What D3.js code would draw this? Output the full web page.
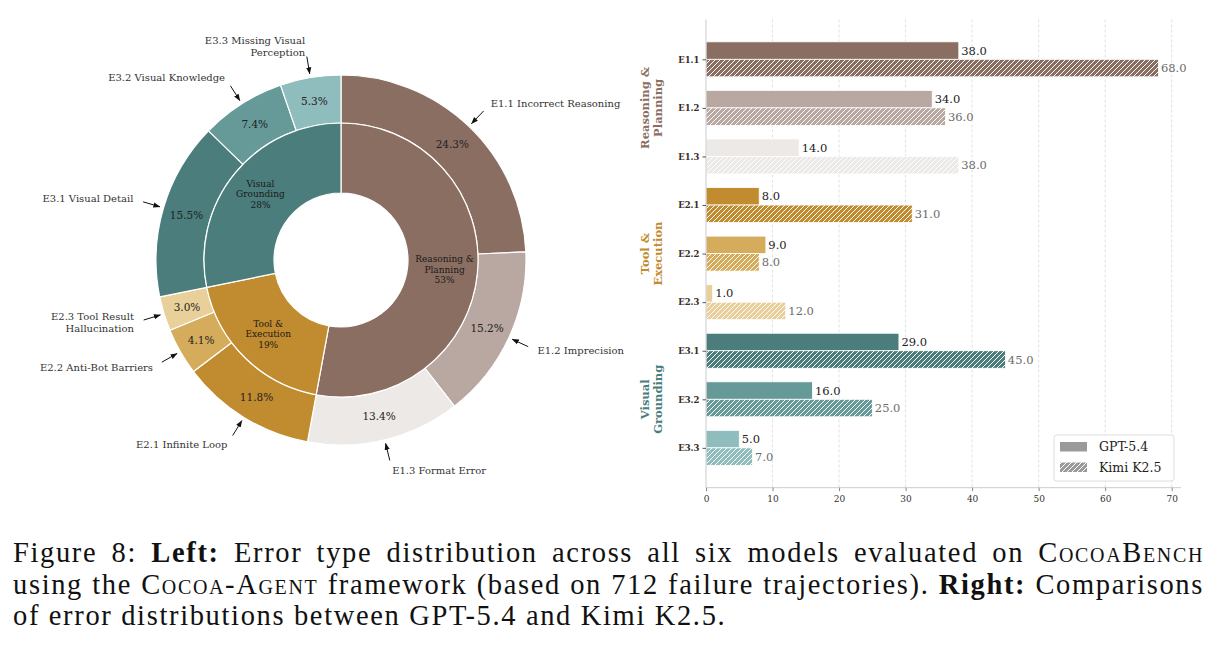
<!DOCTYPE html>
<html>
<head>
<meta charset="utf-8">
<script src="https://cdn.jsdelivr.net/npm/d3@7"></script>
<style>
  body { margin: 0; background: #fff; }
  #wrap { position: relative; width: 1218px; height: 653px; overflow: hidden; }
  svg { position: absolute; left: 0; top: 0; }
  .cap { position: absolute; left: 13px; width: 1191px; font-family: "Liberation Serif", serif; font-size: 28.5px; letter-spacing: 1.65px; color: #111; white-space: nowrap; }
  .cap.just { text-align: justify; text-align-last: justify; white-space: normal; }
  .sc { font-variant: small-caps; }
</style>
</head>
<body>
<div id="wrap"></div>
<script>
// ---- data ----
const subCodes = ["E1.1", "E1.2", "E1.3", "E2.1", "E2.2", "E2.3", "E3.1", "E3.2", "E3.3"];
const subNames = [
    ["E1.1 Incorrect Reasoning"], ["E1.2 Imprecision"], ["E1.3 Format Error"],
    ["E2.1 Infinite Loop"], ["E2.2 Anti-Bot Barriers"], ["E2.3 Tool Result", "Hallucination"],
    ["E3.1 Visual Detail"], ["E3.2 Visual Knowledge"], ["E3.3 Missing Visual", "Perception"]
];
const subShares = [24.3, 15.2, 13.4, 11.8, 4.1, 3.0, 15.5, 7.4, 5.3];
const subColors = ["#8b6e62", "#b9a8a1", "#ece9e6", "#c18b2f", "#d5ac5b", "#e9d09a", "#4a7d7c", "#659a99", "#8fbcbc"];

const groupNames = [["Reasoning &", "Planning"], ["Tool &", "Execution"], ["Visual", "Grounding"]];
const groupShares = [52.9, 18.9, 28.2];
const groupColors = ["#8b6e62", "#c18b2f", "#4a7d7c"];
const groupRows = [1, 4, 7];   // category row the group label is centered on

const gptCounts = [38, 34, 14, 8, 9, 1, 29, 16, 5];
const kimiCounts = [68, 36, 38, 31, 8, 12, 45, 25, 7];
const xTicks = [0, 10, 20, 30, 40, 50, 60, 70];

const width = 1218, height = 653;
const serif = "DejaVu Serif, serif";

let svg = d3.select("#wrap").append("svg")
    .attr("width", width)
    .attr("height", height);

let defs = svg.append("defs");

defs.append("marker")
    .attr("id", "arrowHead")
    .attr("viewBox", "0 0 8 8")
    .attr("refX", 7.5).attr("refY", 4)
    .attr("markerWidth", 7).attr("markerHeight", 7)
    .attr("markerUnits", "userSpaceOnUse")
    .attr("orient", "auto")
    .append("path")
    .attr("d", "M0,1 L8,4 L0,7 z")
    .attr("fill", "#111");

// hatch pattern per colour (white '/' lines)
function hatchId(color) { return "hatch" + color.replace("#", ""); }
subColors.concat(["#9a9a9a"]).forEach(c => {
    let p = defs.append("pattern")
        .attr("id", hatchId(c))
        .attr("patternUnits", "userSpaceOnUse")
        .attr("width", 5).attr("height", 5);
    p.append("rect").attr("width", 5).attr("height", 5).attr("fill", c);
    p.append("path")
        .attr("d", "M-1,1 l2,-2 M0,5 l5,-5 M4,6 l2,-2")
        .attr("stroke", "#fff")
        .attr("stroke-width", 1);
});

// ================= LEFT: nested donut =================
let cx = 341, cy = 260;
let rOuter = 185, rMid = 137, rInner = 67;

let pie = d3.pie().sort(null).value(d => d);
let subArcs = pie(subShares);
let groupArcs = pie(groupShares);

let outerArc = d3.arc().innerRadius(rMid).outerRadius(rOuter);
let innerArc = d3.arc().innerRadius(rInner).outerRadius(rMid);

let pieG = svg.append("g").attr("transform", `translate(${cx},${cy})`);

pieG.selectAll("path.outer")
    .data(subArcs)
    .enter().append("path")
    .attr("class", "outer")
    .attr("d", outerArc)
    .attr("fill", (d, i) => subColors[i])
    .attr("stroke", "#fff")
    .attr("stroke-width", 1.2);

pieG.selectAll("path.inner")
    .data(groupArcs)
    .enter().append("path")
    .attr("class", "inner")
    .attr("d", innerArc)
    .attr("fill", (d, i) => groupColors[i])
    .attr("stroke", "#fff")
    .attr("stroke-width", 1.2);

// polar helper (angle clockwise from 12 o'clock)
let polar = (a, r) => [r * Math.sin(a), -r * Math.cos(a)];
let mid = d => (d.startAngle + d.endAngle) / 2;

// percentage labels in outer ring
pieG.selectAll("text.pct")
    .data(subArcs)
    .enter().append("text")
    .attr("class", "pct")
    .attr("x", d => polar(mid(d), (rMid + rOuter) / 2)[0])
    .attr("y", d => polar(mid(d), (rMid + rOuter) / 2)[1])
    .attr("text-anchor", "middle")
    .attr("dominant-baseline", "central")
    .attr("font-family", serif)
    .attr("font-size", 10.5)
    .attr("fill", "#222")
    .text(d => d.data.toFixed(1) + "%");

// group labels in inner ring
groupArcs.forEach((d, i) => {
    let [x, y] = polar(mid(d), (rInner + rMid) / 2 + 2);
    let lines = groupNames[i].concat([Math.round(d.data) + "%"]);
    let t = pieG.append("text")
        .attr("text-anchor", "middle")
        .attr("font-family", serif)
        .attr("font-size", 9)
        .attr("fill", "#1a1a1a");
    lines.forEach((l, k) => {
        t.append("tspan")
            .attr("x", x)
            .attr("y", y + (k - 1) * 10.8)
            .attr("dy", "0.35em")
            .text(l);
    });
});

// outside annotations with arrows
subArcs.forEach((d, i) => {
    let a = mid(d);
    let right = Math.sin(a) >= 0;
    let [tx, ty] = polar(a, rOuter * 1.17);
    let [ax, ay] = polar(a, rOuter * 1.115);
    let [bx, by] = polar(a, rOuter * 1.02);

    pieG.append("line")
        .attr("x1", ax).attr("y1", ay)
        .attr("x2", bx).attr("y2", by)
        .attr("stroke", "#111")
        .attr("stroke-width", 1)
        .attr("marker-end", "url(#arrowHead)");

    let lines = subNames[i];
    let t = pieG.append("text")
        .attr("text-anchor", right ? "start" : "end")
        .attr("font-family", serif)
        .attr("font-size", 10)
        .attr("fill", "#333");
    lines.forEach((l, k) => {
        t.append("tspan")
            .attr("x", tx)
            .attr("y", ty + (k - (lines.length - 1) / 2) * 12)
            .attr("dy", "0.35em")
            .text(l);
    });
});

// ================= RIGHT: grouped horizontal bars =================
let x = d3.scaleLinear().domain([0, 71.4]).range([706, 1181]);
let y = d3.scaleLinear().domain([-0.82, 8.82]).range([19.5, 487.7]);
let barH = 0.36;

let barG = svg.append("g");

// dashed grid
barG.selectAll("line.grid")
    .data(xTicks.slice(1))
    .enter().append("line")
    .attr("class", "grid")
    .attr("x1", d => x(d)).attr("x2", d => x(d))
    .attr("y1", y(-0.82)).attr("y2", y(8.82))
    .attr("stroke", "#d9d9d9")
    .attr("stroke-width", 0.8)
    .attr("stroke-dasharray", "3,2");

// GPT-5.4 bars
barG.selectAll("rect.gpt")
    .data(gptCounts)
    .enter().append("rect")
    .attr("class", "gpt")
    .attr("x", x(0))
    .attr("y", (d, i) => y(i - barH))
    .attr("width", d => x(d) - x(0))
    .attr("height", y(barH) - y(0))
    .attr("fill", (d, i) => subColors[i])
    .attr("stroke", "#fff")
    .attr("stroke-width", 0.8);

// Kimi K2.5 bars (hatched)
barG.selectAll("rect.kimi")
    .data(kimiCounts)
    .enter().append("rect")
    .attr("class", "kimi")
    .attr("x", x(0))
    .attr("y", (d, i) => y(i))
    .attr("width", d => x(d) - x(0))
    .attr("height", y(barH) - y(0))
    .attr("fill", (d, i) => `url(#${hatchId(subColors[i])})`)
    .attr("stroke", "#fff")
    .attr("stroke-width", 0.8);

// value labels
barG.selectAll("text.gptv")
    .data(gptCounts)
    .enter().append("text")
    .attr("x", d => x(d) + 2.5)
    .attr("y", (d, i) => y(i - barH / 2))
    .attr("dy", "0.35em")
    .attr("font-family", serif)
    .attr("font-size", 11.5)
    .attr("fill", "#222")
    .text(d => d.toFixed(1));

barG.selectAll("text.kimiv")
    .data(kimiCounts)
    .enter().append("text")
    .attr("x", d => x(d) + 2.5)
    .attr("y", (d, i) => y(i + barH / 2))
    .attr("dy", "0.35em")
    .attr("font-family", serif)
    .attr("font-size", 11.5)
    .attr("fill", "#6b6b6b")
    .text(d => d.toFixed(1));

// x axis
let xAxisG = barG.append("g")
    .attr("transform", `translate(0,${y(8.82)})`)
    .call(d3.axisBottom(x).tickValues(xTicks).tickSize(3.5).tickFormat(d3.format("d")));
xAxisG.select(".domain").attr("stroke", "#cccccc").attr("d", `M${x(0)},0H${x(71.4)}`);
xAxisG.selectAll(".tick line").attr("stroke", "#888");
xAxisG.selectAll(".tick text")
    .attr("font-family", serif)
    .attr("font-size", 9)
    .attr("fill", "#333")
    .attr("dy", "0.9em");

// y axis
let yAxisG = barG.append("g")
    .attr("transform", `translate(${x(0)},0)`)
    .call(d3.axisLeft(y).tickValues(d3.range(subCodes.length)).tickSize(3.5).tickFormat(i => subCodes[i]));
yAxisG.select(".domain").attr("stroke", "#cccccc").attr("d", `M0,${y(-0.82)}V${y(8.82)}`);
yAxisG.selectAll(".tick line").attr("stroke", "#555");
yAxisG.selectAll(".tick text")
    .attr("font-family", serif)
    .attr("font-size", 8.5)
    .attr("font-weight", "bold")
    .attr("fill", "#3a2c28");

// rotated group titles
groupRows.forEach((row, i) => {
    let t = barG.append("text")
        .attr("transform", `translate(651.5,${y(row)}) rotate(-90)`)
        .attr("text-anchor", "middle")
        .attr("font-family", serif)
        .attr("font-size", 11.5)
        .attr("font-weight", "bold")
        .attr("fill", groupColors[i]);
    groupNames[i].forEach((l, k) => {
        t.append("tspan")
            .attr("x", 0)
            .attr("y", (k - 0.5) * 13)
            .attr("dy", "0.35em")
            .text(l);
    });
});

// legend
let legendItems = [{ name: "GPT-5.4", fill: "#9a9a9a" }, { name: "Kimi K2.5", fill: `url(#${hatchId("#9a9a9a")})` }];
let legendG = barG.append("g").attr("transform", "translate(1054,435)");
legendG.append("rect")
    .attr("width", 120).attr("height", 46)
    .attr("rx", 2.5)
    .attr("fill", "#fff")
    .attr("fill-opacity", 0.85)
    .attr("stroke", "#d6d6d6")
    .attr("stroke-width", 0.8);
legendItems.forEach((it, k) => {
    legendG.append("rect")
        .attr("x", 6).attr("y", 7 + k * 20.5)
        .attr("width", 27).attr("height", 9.5)
        .attr("fill", it.fill);
    legendG.append("text")
        .attr("x", 45).attr("y", 12 + k * 20.5)
        .attr("dy", "0.35em")
        .attr("font-family", serif)
        .attr("font-size", 12.5)
        .attr("fill", "#222")
        .text(it.name);
});

// ================= caption =================
let captionLines = [
    { cls: "cap just", html: 'Figure 8: <b>Left:</b> Error type distribution across all six models evaluated on <span class="sc">CocoaBench</span>' },
    { cls: "cap just", html: 'using the <span class="sc">Cocoa-Agent</span> framework (based on 712 failure trajectories). <b>Right:</b> Comparisons' },
    { cls: "cap", html: 'of error distributions between GPT-5.4 and Kimi K2.5.' }
];
d3.select("#wrap").selectAll("div.cap")
    .data(captionLines)
    .enter().append("div")
    .attr("class", d => d.cls)
    .style("top", (d, i) => (537 + i * 31.5) + "px")
    .html(d => d.html);
</script>
</body>
</html>
